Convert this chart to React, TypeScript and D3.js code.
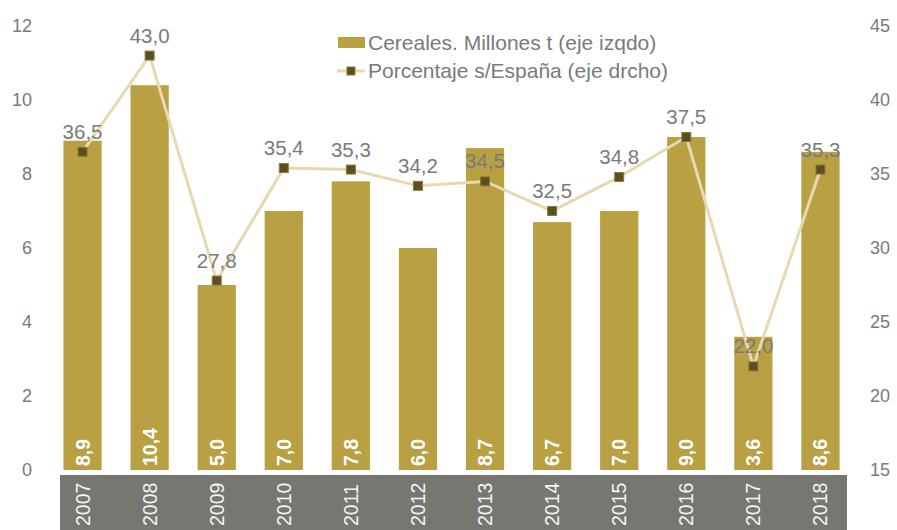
import React from "react";
import * as d3 from "d3";

const years = ["2007","2008","2009","2010","2011","2012","2013","2014","2015","2016","2017","2018"];
const cereales = [8.9,10.4,5.0,7.0,7.8,6.0,8.7,6.7,7.0,9.0,3.6,8.6];
const porcentaje = [36.5,43.0,27.8,35.4,35.3,34.2,34.5,32.5,34.8,37.5,22.0,35.3];
const leftTicks = [0,2,4,6,8,10,12];
const rightTicks = [15,20,25,30,35,40,45];
const legendLabels = ["Cereales. Millones t (eje izqdo)", "Porcentaje s/España (eje drcho)"];

const W = 897, H = 530;
const BAR = "#b9a042";
const LINE = "#e6d9b0";
const MARK = "#5c4e1e";
const GREY = "#7a7a7a";
const fmt = (v: number) => v.toFixed(1).replace(".", ",");

export default function App() {
  const x = d3.scaleBand<string>().domain(years).range([49, 854]).paddingInner(0.43).paddingOuter(0.215);
  const yL = d3.scaleLinear().domain([0, 12]).range([470, 26]);
  const yR = d3.scaleLinear().domain([15, 45]).range([470, 26]);
  const cx = (y: string) => (x(y) as number) + x.bandwidth() / 2;
  const line = d3.line<number>().x((_, i) => cx(years[i])).y(d => yR(d));
  const font = "'Liberation Sans', Arial, sans-serif";
  return (
    <svg width={W} height={H} style={{ position: "absolute", left: 0, top: 0 }} fontFamily={font}>
      <rect x={0} y={0} width={W} height={H} fill="#fff" />
      <rect x={60} y={475} width={787} height={55} fill="#777772" />
      {leftTicks.map(t => (
        <text key={"l" + t} x={32} y={yL(t)} dy="0.35em" textAnchor="end" fontSize={18} fill={GREY}>{t}</text>
      ))}
      {rightTicks.map(t => (
        <text key={"r" + t} x={870} y={yR(t)} dy="0.35em" textAnchor="start" fontSize={18} fill={GREY}>{t}</text>
      ))}
      {years.map((y, i) => (
        <rect key={"b" + y} x={x(y)} y={yL(cereales[i])} width={x.bandwidth()} height={yL(0) - yL(cereales[i])} fill={BAR} />
      ))}
      {years.map((y, i) => (
        <text key={"bl" + y} transform={`translate(${cx(y)},${yL(0) - 4}) rotate(-90)`} dy="0.36em" textAnchor="start"
          fontSize={19.5} fontWeight="bold" fill="#fff">{fmt(cereales[i])}</text>
      ))}
      {years.map(y => (
        <text key={"yl" + y} transform={`translate(${cx(y)},${526}) rotate(-90)`} dy="0.36em" textAnchor="start"
          fontSize={19.5} fill="#f4f4f2">{y}</text>
      ))}
      <path d={line(porcentaje) || ""} fill="none" stroke={LINE} strokeWidth={3} />
      {years.map((y, i) => (
        <rect key={"m" + y} x={cx(y) - 4.5} y={yR(porcentaje[i]) - 4.5} width={9} height={9} fill={MARK} stroke="#8a7a3a" strokeWidth={1} />
      ))}
      {years.map((y, i) => (
        <text key={"pl" + y} x={cx(y)} y={yR(porcentaje[i]) - 13} textAnchor="middle" fontSize={20.5} fill={GREY}>{fmt(porcentaje[i])}</text>
      ))}
      <g>
        <rect x={338} y={37} width={27} height={11} fill={BAR} />
        <text x={368} y={43} dy="0.35em" fontSize={21} fill={GREY}>{legendLabels[0]}</text>
        <line x1={337} x2={365} y1={71} y2={71} stroke={LINE} strokeWidth={3} />
        <rect x={347} y={67} width={8} height={8} fill={MARK} stroke="#8a7a3a" strokeWidth={1} />
        <text x={368} y={71} dy="0.35em" fontSize={21} fill={GREY}>{legendLabels[1]}</text>
      </g>
    </svg>
  );
}
